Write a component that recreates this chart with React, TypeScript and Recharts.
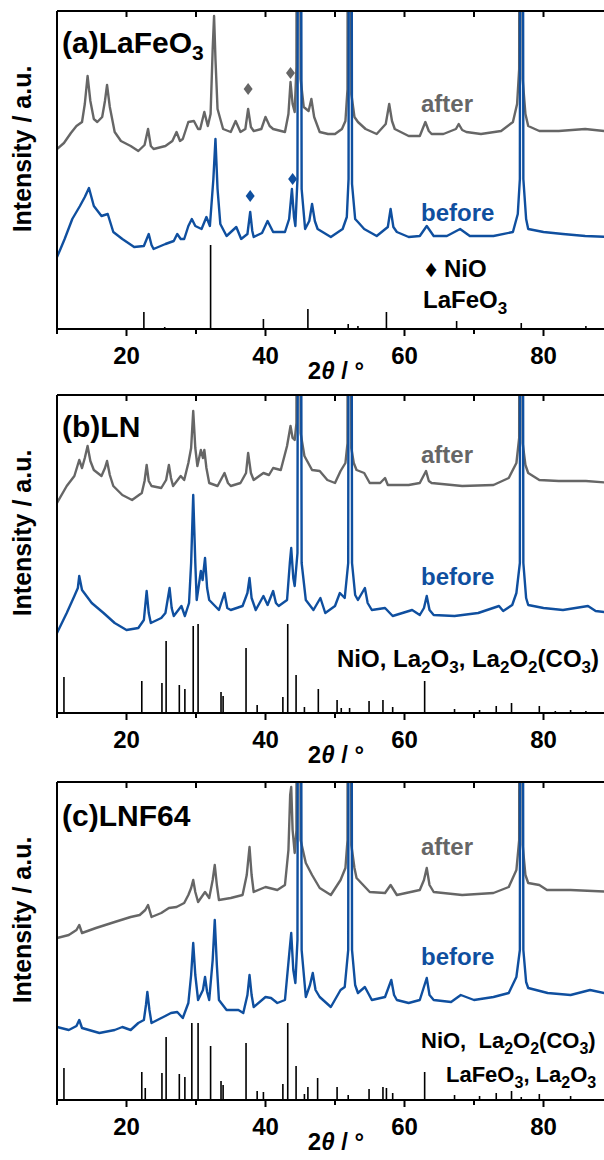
import { ComposedChart, Line, Scatter, XAxis, YAxis } from "recharts";

type Pt = [number, number];

const FONT = "'Liberation Sans', Arial, sans-serif";
const GRAY = "#666666";
const BLUE = "#0f4f9f";

// 2θ axis
const X_TICKS = [10, 20, 30, 40, 50, 60, 70, 80, 90];
const X_LABELS = [20, 40, 60, 80];
// intensity (a.u., height above the axis), peaks above 318 run off the frame
const Y_MAX = 318;

// (a) LaFeO3
const AFTER_A: Pt[] = [
  [10, 180], [11, 186], [12, 196], [12.8, 203], [13.6, 207], [14, 225], [14.4, 253], [14.8, 228], [15.3, 210],
  [15.8, 207], [16.5, 212], [16.9, 228], [17.2, 244], [17.6, 222], [18.3, 197], [19.2, 188], [20.6, 183],
  [21.7, 178], [22.6, 184], [23.1, 200], [23.5, 183], [23.9, 180], [25.6, 183], [26.6, 188], [27.2, 197],
  [27.7, 188], [28.1, 190], [28.9, 207], [29.7, 208], [30.3, 200], [30.6, 200], [31.2, 217], [31.7, 203],
  [32.1, 215], [32.4, 280], [32.6, 313], [32.8, 270], [33.1, 220], [33.9, 200], [35, 197], [35.7, 208],
  [36.4, 197], [37.1, 200], [37.5, 220], [37.9, 202], [38.3, 198], [39.4, 200], [40, 212], [40.6, 203],
  [41.1, 200], [42.8, 197], [43.3, 215], [43.6, 247], [43.9, 225], [44.2, 217], [44.45, 262], [44.6, 900],
  [44.85, 900], [45.05, 250], [45.5, 222], [46.2, 218], [46.6, 230], [47, 212], [47.8, 197], [49, 195],
  [50, 195], [51, 200], [51.5, 208], [51.8, 240], [51.9, 900], [52.15, 900], [52.35, 235], [52.8, 212],
  [53.3, 207], [54.4, 200], [56, 195], [57.3, 205], [57.8, 225], [58.2, 208], [58.6, 200], [60.6, 193],
  [62.2, 193], [63, 207], [63.5, 198], [63.9, 195], [65.6, 195], [67.4, 200], [67.8, 205], [68.3, 199],
  [68.9, 197], [71, 195], [73.9, 198], [75.6, 207], [76.2, 225], [76.5, 260], [76.6, 900], [76.85, 900],
  [77, 250], [77.4, 215], [77.8, 203], [79.4, 198], [82.2, 198], [86, 200], [90, 197],
];
const BEFORE_A: Pt[] = [
  [10, 72], [10.5, 80], [11.1, 90], [12.2, 110], [13.3, 123], [14, 132], [14.6, 141], [15.3, 123], [16.4, 113],
  [17.3, 115], [18.1, 97], [19.4, 90], [21.1, 82], [22.5, 83], [23.2, 95], [23.6, 84], [23.9, 80], [25.6, 85],
  [26.8, 88], [27.3, 95], [27.8, 90], [28.3, 90], [28.9, 103], [29.4, 110], [29.9, 103], [30.8, 100],
  [31.5, 112], [32, 103], [32.5, 150], [32.8, 190], [33.1, 140], [33.5, 105], [34.4, 93], [35.8, 102],
  [36.5, 90], [37.4, 95], [37.8, 117], [38.1, 98], [38.3, 92], [39.5, 96], [40.3, 108], [41.1, 97],
  [42.8, 97], [43.4, 110], [43.8, 140], [44.1, 112], [44.3, 103], [44.6, 150], [44.75, 900], [45, 900],
  [45.2, 140], [45.7, 100], [46.3, 108], [46.7, 125], [47.1, 108], [47.5, 100], [49.4, 92], [51.1, 100],
  [51.7, 112], [51.95, 150], [52.05, 900], [52.3, 900], [52.45, 145], [52.9, 110], [53.3, 107], [54.2, 100],
  [56, 93], [57.6, 102], [58, 120], [58.4, 102], [58.9, 97], [60.6, 92], [62.2, 93], [63.2, 103], [64.2, 93],
  [66.1, 93], [68, 100], [69.4, 93], [72.8, 93], [75.6, 97], [76.3, 115], [76.6, 150], [76.7, 900],
  [76.95, 900], [77.1, 150], [77.5, 110], [77.8, 100], [80, 97], [82.8, 95], [86, 93], [90, 92],
];
const STICKS_A: Pt[] = [
  [22.5, 17], [25.5, 2], [32.1, 84], [34.5, 1], [39.7, 10], [46.1, 20], [51.9, 5], [53.3, 3], [57.4, 17],
  [67.5, 8], [76.8, 6], [86.1, 3],
];
const NIO_AFTER_A: Pt[] = [[37.5, 240], [43.6, 256]];
const NIO_BEFORE_A: Pt[] = [[37.8, 133], [43.9, 150]];

// (b) LN
const AFTER_B: Pt[] = [
  [10, 210], [11.4, 227], [12.5, 237], [13.2, 253], [13.6, 245], [14, 255], [14.4, 267], [14.8, 252], [15.3, 243],
  [16.4, 237], [16.9, 245], [17.2, 252], [17.6, 238], [18.1, 227], [19.4, 218], [20.8, 213], [22.2, 220],
  [22.6, 232], [22.9, 248], [23.2, 232], [23.6, 227], [25, 225], [25.7, 233], [26.1, 248], [26.4, 235],
  [26.7, 227], [27.8, 237], [28.3, 233], [28.9, 250], [29.3, 265], [29.6, 302], [29.9, 265], [30.2, 247],
  [30.7, 263], [31, 255], [31.2, 263], [31.5, 245], [31.9, 230], [33.1, 227], [34.1, 240], [34.6, 230],
  [35, 227], [36.4, 230], [37.2, 240], [37.5, 260], [37.9, 240], [38.3, 233], [39.7, 240], [40.5, 238],
  [41.1, 245], [42.2, 243], [43.1, 267], [43.6, 287], [43.9, 275], [44.2, 273], [44.45, 290], [44.6, 900],
  [44.85, 900], [45.05, 280], [45.6, 257], [46.7, 243], [47.8, 242], [48.9, 233], [50, 230], [50.8, 242],
  [51.5, 250], [51.8, 270], [51.9, 900], [52.15, 900], [52.35, 265], [52.7, 250], [53.1, 243], [54.2, 240],
  [55, 230], [56.5, 230], [57.2, 235], [57.6, 228], [60.6, 228], [62.2, 230], [63.1, 242], [63.5, 232],
  [63.9, 230], [68.3, 227], [72.8, 228], [75, 235], [76.1, 250], [76.5, 275], [76.6, 900], [76.85, 900],
  [77, 270], [77.4, 248], [77.8, 240], [79.4, 233], [82.2, 232], [86.1, 232], [90, 230],
];
const BEFORE_B: Pt[] = [
  [10, 80], [11.4, 100], [12.5, 117], [13, 125], [13.2, 137], [13.6, 123], [15, 110], [16.7, 100], [18.3, 90],
  [20, 83], [21.7, 85], [22.5, 93], [22.9, 122], [23.2, 100], [23.5, 90], [25, 95], [25.6, 100], [26.2, 125],
  [26.5, 105], [26.8, 97], [27.9, 107], [28.4, 97], [29, 110], [29.3, 150], [29.6, 218], [29.9, 150],
  [30.1, 113], [30.7, 142], [30.95, 133], [31.3, 155], [31.6, 125], [31.9, 113], [33.3, 103], [34.1, 120],
  [34.5, 105], [35, 103], [36.7, 107], [37.4, 120], [37.7, 135], [38, 115], [38.6, 103], [39.7, 117],
  [40.3, 108], [41.1, 122], [41.5, 110], [41.9, 107], [43.1, 113], [43.5, 150], [43.7, 165], [44, 135],
  [44.2, 127], [44.6, 160], [44.75, 900], [45, 900], [45.2, 150], [45.8, 113], [46.9, 103], [47.9, 115],
  [48.6, 100], [50, 107], [50.7, 120], [51.4, 115], [51.9, 150], [52.05, 900], [52.3, 900], [52.45, 150],
  [52.9, 118], [53.3, 113], [54.3, 125], [54.7, 110], [55.3, 103], [57.2, 105], [58.3, 97], [61.1, 103],
  [62.2, 98], [62.8, 105], [63.2, 117], [63.6, 103], [64.2, 98], [67.2, 97], [70.6, 100], [73.6, 107],
  [74.2, 102], [75.5, 108], [76.1, 120], [76.6, 150], [76.7, 900], [76.95, 900], [77.1, 150], [77.5, 115],
  [77.8, 108], [80, 105], [82.8, 103], [86.4, 107], [87.5, 102], [90, 100],
];
const STICKS_B: Pt[] = [
  [11, 36], [22.2, 32], [25.1, 30], [25.7, 72], [27.6, 28], [28.4, 24], [29.6, 87], [30.3, 89], [33.6, 21],
  [33.9, 17], [37.2, 65], [38.8, 8], [42.5, 16], [43.2, 89], [44.4, 38], [45.6, 6], [47.6, 24], [50.3, 13],
  [50.9, 5], [52.1, 5], [54.9, 12], [56.9, 13], [58.3, 6], [62.9, 32], [67.2, 4], [70.8, 3], [73.2, 7],
  [75.4, 10], [79.4, 7], [81.7, 2], [83.9, 3], [86.1, 2],
];

// (c) LNF64
const AFTER_C: Pt[] = [
  [10, 162], [11.7, 165], [12.8, 170], [13.2, 175], [13.6, 167], [15.6, 172], [18.3, 178], [20.6, 183],
  [21.9, 185], [22.7, 190], [23.1, 195], [23.6, 183], [25, 187], [26.1, 192], [27.2, 193], [28.3, 197],
  [28.9, 205], [29.3, 212], [29.6, 220], [29.9, 208], [30.3, 198], [31, 205], [31.3, 208], [31.9, 202],
  [32.4, 220], [32.7, 235], [33, 215], [33.3, 200], [35, 202], [36.7, 205], [37.3, 225], [37.7, 253],
  [38, 225], [38.3, 208], [40, 213], [41.7, 210], [42.8, 215], [43.3, 250], [43.55, 305], [43.7, 313],
  [43.9, 270], [44.2, 247], [44.45, 270], [44.6, 900], [44.85, 900], [45.05, 260], [45.8, 237], [46.7, 225],
  [47.8, 212], [49.4, 205], [50.8, 220], [51.5, 232], [51.8, 260], [51.9, 900], [52.15, 900], [52.35, 255],
  [52.8, 232], [53.1, 222], [55, 208], [57.2, 207], [58, 215], [58.9, 205], [62.2, 210], [62.8, 220],
  [63.2, 232], [63.6, 215], [64.2, 208], [68.3, 205], [72.8, 207], [75, 213], [76.1, 230], [76.5, 260],
  [76.6, 900], [76.85, 900], [77, 255], [77.4, 225], [77.8, 217], [79.4, 215], [80.5, 210], [83.9, 210],
  [90, 208],
];
const BEFORE_C: Pt[] = [
  [10, 73], [11.7, 70], [12.8, 74], [13.2, 80], [13.6, 72], [16.1, 67], [18.3, 70], [19.4, 73], [20.6, 70],
  [21.7, 77], [22.5, 80], [22.8, 95], [23, 108], [23.3, 90], [23.6, 77], [25.3, 83], [26.4, 87], [27.3, 88],
  [28.1, 82], [28.9, 97], [29.3, 125], [29.6, 157], [29.9, 125], [30.3, 100], [31, 110], [31.3, 123],
  [31.6, 108], [31.9, 100], [32.4, 140], [32.7, 180], [33, 135], [33.3, 100], [34.4, 90], [36.1, 90],
  [36.8, 87], [37.4, 105], [37.7, 125], [38, 105], [38.3, 93], [40, 103], [40.8, 102], [41.7, 97],
  [42.8, 100], [43.4, 145], [43.7, 167], [44, 130], [44.3, 117], [44.6, 160], [44.75, 900], [45, 900],
  [45.2, 150], [45.8, 103], [46.4, 115], [46.8, 127], [47.2, 110], [47.8, 103], [49.4, 93], [50.8, 110],
  [51.4, 113], [51.9, 150], [52.05, 900], [52.3, 900], [52.45, 150], [52.9, 115], [53.3, 107], [54.3, 113],
  [55.3, 100], [57.2, 103], [58.1, 120], [58.5, 105], [58.9, 100], [60.6, 97], [62.2, 100], [63.2, 122],
  [63.6, 105], [64.2, 100], [66.7, 98], [68.1, 105], [70, 100], [72.8, 103], [75, 107], [76.1, 123],
  [76.6, 150], [76.7, 900], [76.95, 900], [77.1, 150], [77.5, 118], [77.8, 112], [80.6, 107], [83.9, 105],
  [86.7, 110], [90, 105],
];
const STICKS_C: Pt[] = [
  [11, 32], [22.2, 28], [22.7, 12], [25.1, 27], [25.7, 63], [27.6, 26], [28.4, 23], [29.4, 77], [30.3, 77],
  [32.1, 54], [33.6, 19], [33.9, 15], [37.2, 57], [38.8, 9], [39.7, 8], [42.5, 16], [43.2, 77], [44.4, 34],
  [45.6, 6], [46.1, 13], [47.5, 22], [50.3, 13], [51.9, 5], [54.9, 11], [56.9, 13], [57.4, 12], [58.3, 7],
  [62.9, 28], [67.2, 5], [70.8, 4], [73.2, 7], [75.4, 9], [76.8, 3], [79.4, 6], [83.9, 4],
];

const rows = (pts: Pt[]) => pts.map(([x, v]) => ({ x, v }));
const stickRows = (pts: Pt[]) => pts.flatMap(([x, h]) => [{ x, v: 0 }, { x, v: h }, { x, v: 0 }]);

const CHART_W = 640;
const CHART_H = 389;

function BottomTick(props: any) {
  const { x, y, payload } = props;
  const major = X_LABELS.includes(payload.value);
  return (
    <g>
      <line x1={x} x2={x} y1={y} y2={y + (major ? 7 : 5)} stroke="#000" strokeWidth={2} />
      {major && (
        <text x={x} y={y + 35} textAnchor="middle" fontFamily={FONT} fontWeight="bold" fontSize={24} fill="#000">
          {payload.value}
        </text>
      )}
    </g>
  );
}

function TopTick(props: any) {
  const { x, y } = props;
  return <line x1={x} x2={x} y1={y} y2={y + 6} stroke="#000" strokeWidth={2} />;
}

function Diamond(color: string) {
  return (p: any) => (
    <polygon
      points={`${p.cx},${p.cy - 6} ${p.cx + 4.5},${p.cy} ${p.cx},${p.cy + 6} ${p.cx - 4.5},${p.cy}`}
      fill={color}
    />
  );
}

// "La_2O_3" -> tspans with lowered subscripts
function chem(s: string, fs: number, subFs: number, drop: number) {
  const parts = s.split(/_(\d)/);
  let low = false;
  return parts.map((p, i) => {
    const isSub = i % 2 === 1;
    const dy = isSub ? (low ? 0 : drop) : low ? -drop : 0;
    low = isSub;
    return (
      <tspan key={i} dy={dy} fontSize={isSub ? subFs : fs}>
        {p}
      </tspan>
    );
  });
}

interface PanelProps {
  top: number;
  after: Pt[];
  before: Pt[];
  sticks: Pt[];
  nioAfter?: Pt[];
  nioBefore?: Pt[];
  children: React.ReactNode;
}

function Panel({ top, after, before, sticks, nioAfter, nioBefore, children }: PanelProps) {
  const txt = { fontFamily: FONT, fontWeight: "bold" as const };
  return (
    <div style={{ position: "absolute", left: 0, top, width: CHART_W, height: CHART_H }}>
      <ComposedChart width={CHART_W} height={CHART_H} margin={{ top: 9, right: 27, left: 56, bottom: 0 }}>
        <XAxis
          xAxisId="b"
          dataKey="x"
          type="number"
          domain={[10, 90]}
          allowDataOverflow
          ticks={X_TICKS}
          interval={0}
          tickSize={0}
          tickMargin={0}
          tickLine={false}
          tick={(p: any) => <BottomTick {...p} />}
          height={60}
          axisLine={{ stroke: "#000", strokeWidth: 2 }}
        />
        <XAxis
          xAxisId="t"
          orientation="top"
          dataKey="x"
          type="number"
          domain={[10, 90]}
          allowDataOverflow
          ticks={X_TICKS}
          interval={0}
          tickSize={0}
          tickMargin={0}
          tickLine={false}
          tick={(p: any) => <TopTick {...p} />}
          height={2}
          axisLine={{ stroke: "#000", strokeWidth: 2 }}
        />
        <YAxis
          yAxisId="y"
          dataKey="v"
          type="number"
          domain={[0, Y_MAX]}
          allowDataOverflow
          width={1}
          tick={false}
          tickLine={false}
          axisLine={{ stroke: "#000", strokeWidth: 2 }}
        />
        <Line xAxisId="b" yAxisId="y" data={stickRows(sticks)} dataKey="v" type="linear" stroke="#000"
          strokeWidth={1.6} dot={false} activeDot={false} isAnimationActive={false} />
        <Line xAxisId="b" yAxisId="y" data={rows(after)} dataKey="v" type="linear" stroke={GRAY}
          strokeWidth={2.4} strokeLinejoin="round" dot={false} activeDot={false} isAnimationActive={false} />
        <Line xAxisId="b" yAxisId="y" data={rows(before)} dataKey="v" type="linear" stroke={BLUE}
          strokeWidth={2.4} strokeLinejoin="round" dot={false} activeDot={false} isAnimationActive={false} />
        {nioAfter && (
          <Scatter xAxisId="b" yAxisId="y" data={rows(nioAfter)} dataKey="v" shape={Diamond(GRAY)}
            isAnimationActive={false} />
        )}
        {nioBefore && (
          <Scatter xAxisId="b" yAxisId="y" data={rows(nioBefore)} dataKey="v" shape={Diamond(BLUE)}
            isAnimationActive={false} />
        )}
      </ComposedChart>
      <svg width={CHART_W} height={CHART_H} style={{ position: "absolute", left: 0, top: 0, pointerEvents: "none" }}>
        <text {...txt} fontSize={25} textAnchor="middle" transform="translate(31,149) rotate(-90)">
          Intensity / a.u.
        </text>
        <text {...txt} fontSize={24} x={336} y={379} textAnchor="middle">
          2<tspan fontStyle="italic">θ</tspan> / °
        </text>
        {children}
      </svg>
    </div>
  );
}

export default function App() {
  const t = { fontFamily: FONT, fontWeight: "bold" as const, fontSize: 24 };
  return (
    <div style={{ position: "absolute", left: 0, top: 0, width: 604, height: 1160, overflow: "hidden", background: "#fff" }}>
      <Panel top={0} after={AFTER_A} before={BEFORE_A} sticks={STICKS_A} nioAfter={NIO_AFTER_A} nioBefore={NIO_BEFORE_A}>
        <text {...t} x={62} y={53}>{chem("(a)LaFeO_3", 30, 21, 7)}</text>
        <text {...t} x={421} y={112} fill={GRAY}>after</text>
        <text {...t} x={421} y={221} fill={BLUE}>before</text>
        <text {...t} x={425} y={277}>♦ NiO</text>
        <text {...t} x={423} y={308}>{chem("LaFeO_3", 24, 17, 6)}</text>
      </Panel>
      <Panel top={384} after={AFTER_B} before={BEFORE_B} sticks={STICKS_B}>
        <text {...t} x={62} y={53}>{chem("(b)LN", 30, 21, 7)}</text>
        <text {...t} x={421} y={79} fill={GRAY}>after</text>
        <text {...t} x={421} y={201} fill={BLUE}>before</text>
        <text {...t} x={337} y={283}>{chem("NiO, La_2O_3, La_2O_2(CO_3)", 24, 17, 6)}</text>
      </Panel>
      <Panel top={771} after={AFTER_C} before={BEFORE_C} sticks={STICKS_C}>
        <text {...t} x={62} y={55}>{chem("(c)LNF64", 30, 21, 7)}</text>
        <text {...t} x={421} y={84} fill={GRAY}>after</text>
        <text {...t} x={421} y={194} fill={BLUE}>before</text>
        <text {...t} x={421} y={277}>{chem("NiO,\u00a0 La_2O_2(CO_3)", 22, 16, 6)}</text>
        <text {...t} x={446} y={311}>{chem("LaFeO_3, La_2O_3", 22, 16, 6)}</text>
      </Panel>
    </div>
  );
}
